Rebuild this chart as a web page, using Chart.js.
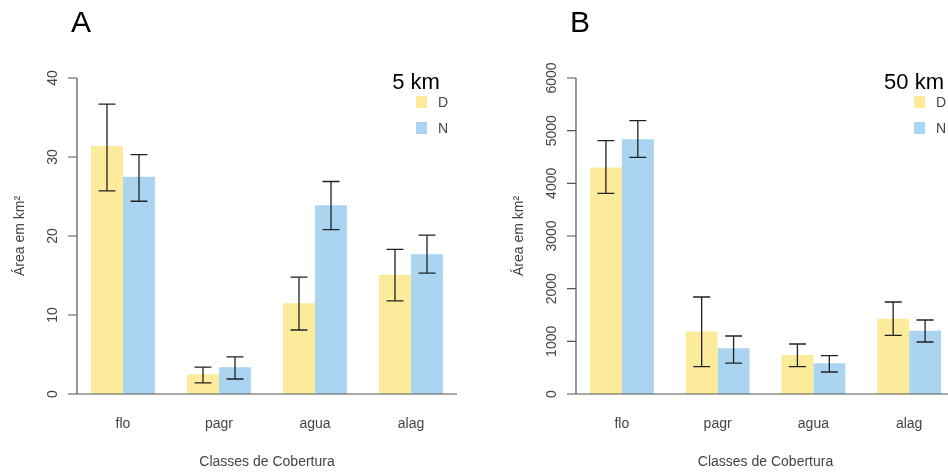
<!DOCTYPE html>
<html lang="pt">
<head>
<meta charset="UTF-8">
<title>Área por classe de cobertura</title>
<script src="https://cdn.jsdelivr.net/npm/chart.js"></script>
<style>
    html, body { margin: 0; padding: 0; background: #fff; overflow: hidden; }
    body { width: 948px; height: 475px; position: relative; }
    .painel { position: absolute; top: 0; height: 475px; }
    #painelA { left: 0; width: 474px; }
    #painelB { left: 474px; width: 520px; }
</style>
</head>
<body>
<div class="painel" id="painelA"><canvas id="graficoA"></canvas></div>
<div class="painel" id="painelB"><canvas id="graficoB"></canvas></div>

<script>
const classes = ['flo', 'pagr', 'agua', 'alag'];
const series = ['D', 'N'];
const cores = ['#FCEB9B', '#AAD4EF'];

// 5 km
const mediaD5 = [31.4, 2.5, 11.5, 15.1];
const mediaN5 = [27.5, 3.4, 23.9, 17.7];
const infD5 = [25.7, 1.4, 8.1, 11.8];
const supD5 = [36.7, 3.4, 14.8, 18.3];
const infN5 = [24.4, 1.9, 20.8, 15.3];
const supN5 = [30.3, 4.7, 26.9, 20.1];
const ticks5 = [0, 10, 20, 30, 40];

// 50 km
const mediaD50 = [4300, 1185, 740, 1430];
const mediaN50 = [4835, 867, 582, 1203];
const infD50 = [3810, 519, 519, 1114];
const supD50 = [4810, 1842, 949, 1747];
const infN50 = [4494, 588, 418, 987];
const supN50 = [5190, 1101, 728, 1405];
const ticks50 = [0, 1000, 2000, 3000, 4000, 5000, 6000];

const fonte = '"Liberation Sans", Arial, sans-serif';

// barras de erro, eixos, rótulos e legenda no estilo do R
const estiloR = {
    id: 'estiloR',
    afterDatasetsDraw(chart, args, opts) {
        const ctx = chart.ctx;
        const area = chart.chartArea;
        const xs = chart.scales.x;
        const ys = chart.scales.y;

        // barras de erro
        ctx.save();
        ctx.strokeStyle = '#222';
        ctx.lineWidth = 1.3;
        chart.data.datasets.forEach((ds, di) => {
            const meta = chart.getDatasetMeta(di);
            meta.data.forEach((bar, i) => {
                const y1 = ys.getPixelForValue(ds.inf[i]);
                const y2 = ys.getPixelForValue(ds.sup[i]);
                ctx.beginPath();
                ctx.moveTo(bar.x, y1); ctx.lineTo(bar.x, y2);
                ctx.moveTo(bar.x - 8.5, y1); ctx.lineTo(bar.x + 8.5, y1);
                ctx.moveTo(bar.x - 8.5, y2); ctx.lineTo(bar.x + 8.5, y2);
                ctx.stroke();
            });
        });
        ctx.restore();

        // eixo y
        const eixoX = area.left + 2;
        const y0 = ys.getPixelForValue(0);
        ctx.save();
        ctx.strokeStyle = '#555';
        ctx.lineWidth = 1.2;
        ctx.beginPath();
        ctx.moveTo(eixoX, ys.getPixelForValue(opts.ticks[opts.ticks.length - 1]));
        ctx.lineTo(eixoX, y0);
        opts.ticks.forEach(t => {
            const y = ys.getPixelForValue(t);
            ctx.moveTo(eixoX - 9, y); ctx.lineTo(eixoX, y);
        });
        // eixo x
        ctx.moveTo(area.left - 7, y0);
        ctx.lineTo(opts.fimEixoX ? chart.width : area.right - 2, y0);
        ctx.stroke();

        ctx.fillStyle = '#444';
        ctx.font = '14px ' + fonte;
        ctx.textAlign = 'center';
        ctx.textBaseline = 'middle';
        opts.ticks.forEach(t => {
            ctx.save();
            ctx.translate(eixoX - 24, ys.getPixelForValue(t));
            ctx.rotate(-Math.PI / 2);
            ctx.fillText(String(t), 0, 0);
            ctx.restore();
        });
        ctx.save();
        ctx.translate(eixoX - 57, (area.top + area.bottom) / 2);
        ctx.rotate(-Math.PI / 2);
        ctx.fillText('Área em km²', 0, 0);
        ctx.restore();

        classes.forEach((c, i) => {
            ctx.fillText(c, xs.getPixelForValue(i), 424);
        });
        ctx.fillText('Classes de Cobertura', (area.left + area.right) / 2, 462);

        // letra do painel
        ctx.fillStyle = '#000';
        ctx.textAlign = 'left';
        ctx.textBaseline = 'alphabetic';
        ctx.font = '30px ' + fonte;
        ctx.fillText(opts.letra, area.left - 4, 32);

        // legenda
        ctx.textAlign = 'center';
        ctx.font = '22px ' + fonte;
        ctx.fillText(opts.titulo, area.right - 43, 89);
        ctx.font = '14px ' + fonte;
        ctx.textAlign = 'left';
        ctx.textBaseline = 'middle';
        series.forEach((s, i) => {
            const yl = 96 + i * 26;
            ctx.fillStyle = cores[i];
            ctx.fillRect(area.right - 43, yl, 11, 12);
            ctx.fillStyle = '#444';
            ctx.fillText(s, area.right - 21, yl + 7);
        });
        ctx.restore();
    }
};

function criarGrafico(id, medias, infs, sups, ticks, cfg) {
    new Chart(document.getElementById(id), {
        type: 'bar',
        data: {
            labels: classes,
            datasets: series.map((s, i) => ({
                label: s,
                data: medias[i],
                inf: infs[i],
                sup: sups[i],
                backgroundColor: cores[i],
                borderWidth: 0,
                categoryPercentage: 0.667,
                barPercentage: 1
            }))
        },
        options: {
            responsive: true,
            maintainAspectRatio: false,
            animation: false,
            layout: { padding: { left: cfg.esq, right: cfg.dir, top: 78, bottom: 81 } },
            scales: {
                x: { display: false },
                y: { display: false, min: 0, max: ticks[ticks.length - 1] }
            },
            plugins: {
                legend: { display: false },
                tooltip: { enabled: false },
                estiloR: { ticks: ticks, letra: cfg.letra, titulo: cfg.titulo, fimEixoX: cfg.fimEixoX }
            }
        },
        plugins: [estiloR]
    });
}

criarGrafico('graficoA', [mediaD5, mediaN5], [infD5, infN5], [supD5, supN5], ticks5,
    { esq: 75, dir: 15, letra: 'A', titulo: '5 km', fimEixoX: false });
criarGrafico('graficoB', [mediaD50, mediaN50], [infD50, infN50], [supD50, supN50], ticks50,
    { esq: 100, dir: 37, letra: 'B', titulo: '50 km', fimEixoX: true });
</script>
</body>
</html>
